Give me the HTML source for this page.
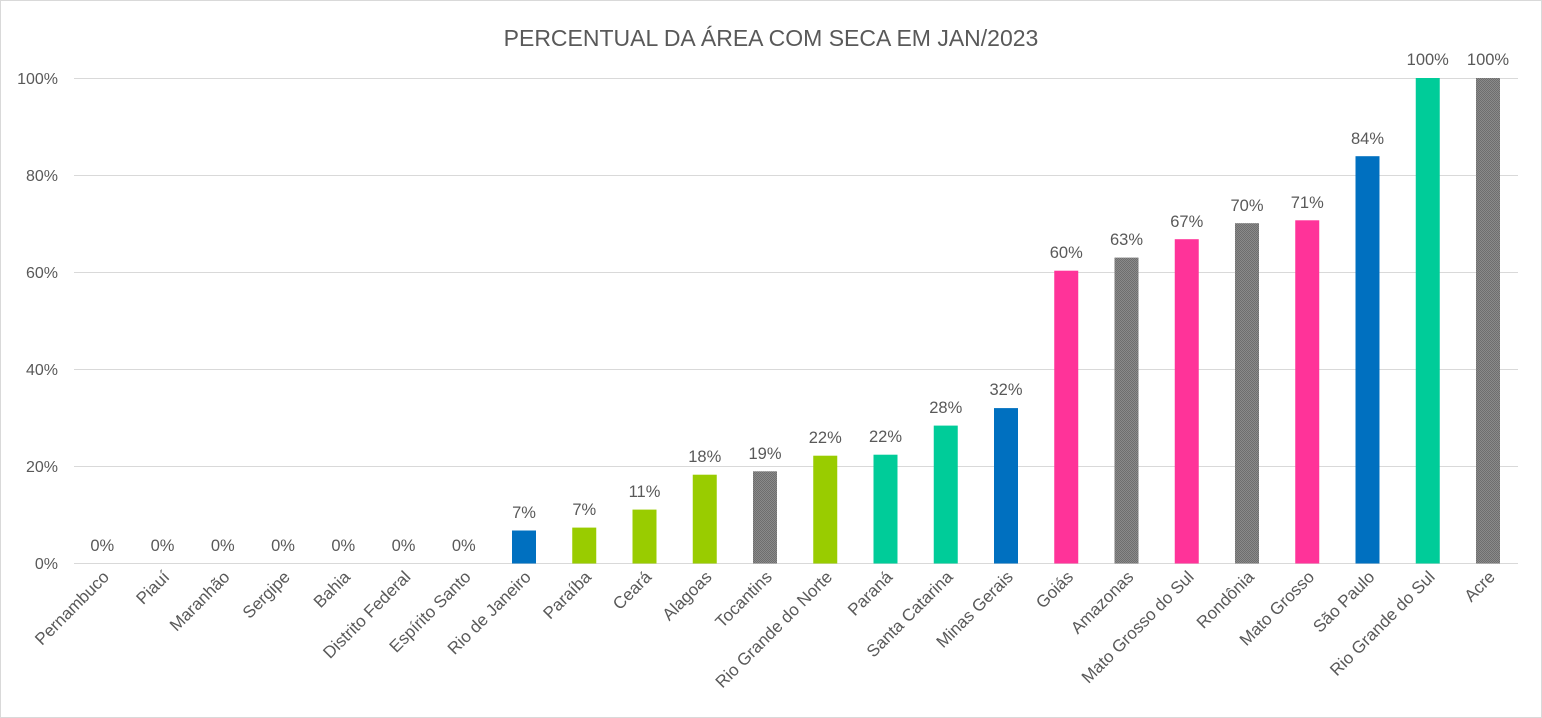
<!DOCTYPE html>
<html><head><meta charset="utf-8"><style>
html,body{margin:0;padding:0;background:#fff}
svg{display:block}
text{font-family:"Liberation Sans",sans-serif;fill:#595959}
</style></head><body>
<svg width="1542" height="718" xmlns="http://www.w3.org/2000/svg">
<defs><pattern id="h" width="2" height="2" patternUnits="userSpaceOnUse"><rect width="2" height="2" fill="#8a8a8a"/><rect width="1" height="1" fill="#6e6e6e"/><rect x="1" y="1" width="1" height="1" fill="#6e6e6e"/></pattern></defs>
<rect x="0.5" y="0.5" width="1541" height="717" fill="#fff" stroke="#d9d9d9"/>
<text x="771" y="46" font-size="23" text-anchor="middle">PERCENTUAL DA ÁREA COM SECA EM JAN/2023</text>
<g stroke="#d9d9d9" stroke-width="1">
<line x1="74" x2="1518" y1="78.5" y2="78.5"/><line x1="74" x2="1518" y1="175.5" y2="175.5"/><line x1="74" x2="1518" y1="272.5" y2="272.5"/><line x1="74" x2="1518" y1="369.5" y2="369.5"/><line x1="74" x2="1518" y1="466.5" y2="466.5"/><line x1="74" x2="1518" y1="563.5" y2="563.5"/>
</g>
<g font-size="16" text-anchor="end">
<text x="58" y="84">100%</text><text x="58" y="181">80%</text><text x="58" y="278">60%</text><text x="58" y="375">40%</text><text x="58" y="472">20%</text><text x="58" y="569">0%</text>
</g>
<g>
<rect x="512" y="530.5" width="24" height="33" fill="#0070c0"/>
<rect x="572.25" y="527.6" width="24" height="35.9" fill="#99cc00"/>
<rect x="632.5" y="509.6" width="24" height="53.9" fill="#99cc00"/>
<rect x="692.75" y="474.7" width="24" height="88.8" fill="#99cc00"/>
<rect x="753" y="471.3" width="24" height="92.2" fill="url(#h)"/>
<rect x="813.25" y="455.7" width="24" height="107.8" fill="#99cc00"/>
<rect x="873.5" y="454.7" width="24" height="108.8" fill="#00cc99"/>
<rect x="933.75" y="425.6" width="24" height="137.9" fill="#00cc99"/>
<rect x="994" y="408.1" width="24" height="155.4" fill="#0070c0"/>
<rect x="1054.25" y="270.7" width="24" height="292.8" fill="#ff3399"/>
<rect x="1114.5" y="257.6" width="24" height="305.9" fill="url(#h)"/>
<rect x="1174.75" y="239.2" width="24" height="324.3" fill="#ff3399"/>
<rect x="1235" y="223.2" width="24" height="340.3" fill="url(#h)"/>
<rect x="1295.25" y="220.3" width="24" height="343.2" fill="#ff3399"/>
<rect x="1355.5" y="156.2" width="24" height="407.3" fill="#0070c0"/>
<rect x="1415.75" y="78" width="24" height="485.5" fill="#00cc99"/>
<rect x="1476" y="78" width="24" height="485.5" fill="url(#h)"/>
</g>
<g font-size="16.5" text-anchor="middle">
<text x="102.25" y="551">0%</text><text x="162.5" y="551">0%</text><text x="222.75" y="551">0%</text><text x="283" y="551">0%</text><text x="343.25" y="551">0%</text><text x="403.5" y="551">0%</text><text x="463.75" y="551">0%</text>
<text x="524" y="518">7%</text><text x="584.25" y="515">7%</text><text x="644.5" y="497">11%</text><text x="704.75" y="462">18%</text><text x="765" y="459">19%</text><text x="825.25" y="443">22%</text><text x="885.5" y="442">22%</text><text x="945.75" y="413">28%</text><text x="1006" y="395">32%</text><text x="1066.25" y="258">60%</text><text x="1126.5" y="245">63%</text><text x="1186.75" y="227">67%</text><text x="1247" y="211">70%</text><text x="1307.25" y="208">71%</text><text x="1367.5" y="144">84%</text><text x="1427.75" y="65">100%</text><text x="1488" y="65">100%</text>
</g>
<g font-size="17" text-anchor="end">
<text transform="translate(110,578) rotate(-45)">Pernambuco</text>
<text transform="translate(170.5,578) rotate(-45)">Piauí</text>
<text transform="translate(230.75,578) rotate(-45)">Maranhão</text>
<text transform="translate(291,578) rotate(-45)">Sergipe</text>
<text transform="translate(351.25,578) rotate(-45)">Bahia</text>
<text transform="translate(411.5,578) rotate(-45)">Distrito Federal</text>
<text transform="translate(471.75,578) rotate(-45)">Espírito Santo</text>
<text transform="translate(532,578) rotate(-45)">Rio de Janeiro</text>
<text transform="translate(592.25,578) rotate(-45)">Paraíba</text>
<text transform="translate(652.5,578) rotate(-45)">Ceará</text>
<text transform="translate(712.75,578) rotate(-45)">Alagoas</text>
<text transform="translate(773,578) rotate(-45)">Tocantins</text>
<text transform="translate(833.25,578) rotate(-45)">Rio Grande do Norte</text>
<text transform="translate(893.5,578) rotate(-45)">Paraná</text>
<text transform="translate(953.75,578) rotate(-45)">Santa Catarina</text>
<text transform="translate(1014,578) rotate(-45)">Minas Gerais</text>
<text transform="translate(1074.25,578) rotate(-45)">Goiás</text>
<text transform="translate(1134.5,578) rotate(-45)">Amazonas</text>
<text transform="translate(1194.75,578) rotate(-45)">Mato Grosso do Sul</text>
<text transform="translate(1255,578) rotate(-45)">Rondônia</text>
<text transform="translate(1315.25,578) rotate(-45)">Mato Grosso</text>
<text transform="translate(1375.5,578) rotate(-45)">São Paulo</text>
<text transform="translate(1435.75,578) rotate(-45)">Rio Grande do Sul</text>
<text transform="translate(1496,578) rotate(-45)">Acre</text>
</g>
</svg>
</body></html>
